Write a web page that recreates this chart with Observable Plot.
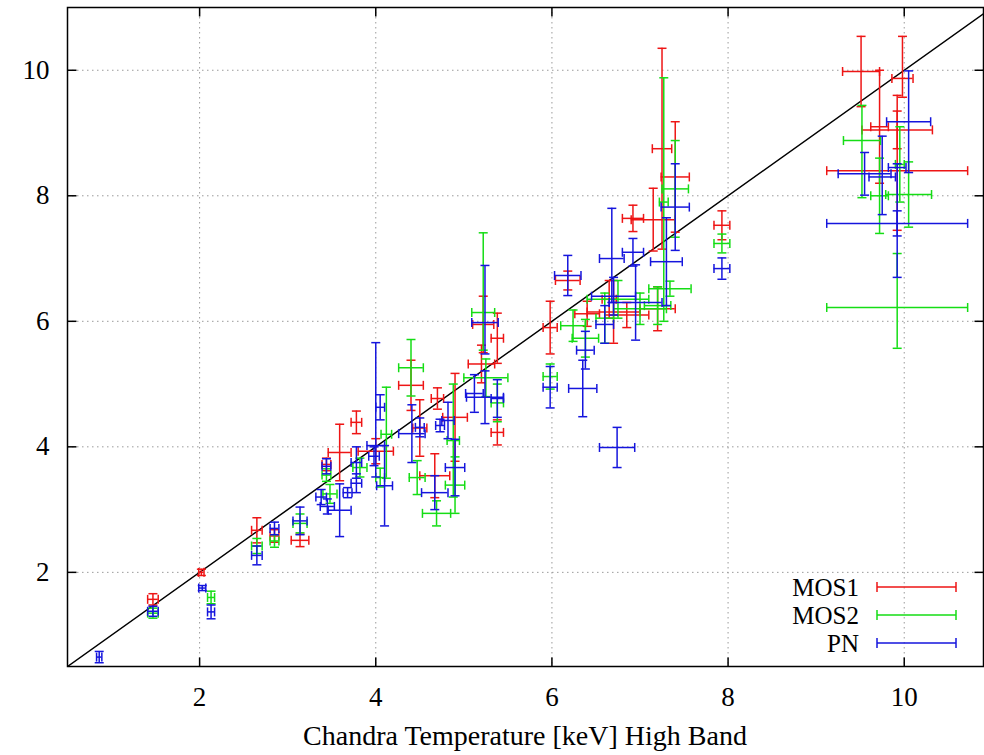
<!DOCTYPE html>
<html><head><meta charset="utf-8">
<script src="https://cdn.jsdelivr.net/npm/d3@7"></script>
<script src="https://cdn.jsdelivr.net/npm/@observablehq/plot@0.6"></script>
<style>body{margin:0;background:#fff} svg{display:block}</style>
</head><body><div id="chart"></div>
<script>
// ---- data ----
const seriesNames = ["MOS1", "MOS2", "PN"];
const seriesColors = ["#ee1515", "#15dd15", "#1515dd"];
const xLabel = "Chandra Temperature [keV] High Band";
const xTicks = [2, 4, 6, 8, 10];
const yTicks = [2, 4, 6, 8, 10];
const xDomain = [0.5, 10.9];
const yDomain = [0.5, 11];

const mos1X     = [1.47,2.02,2.65,2.85,3.14,3.44,3.59,3.78,4.00,4.40,4.50,4.70,4.90,4.67,5.20,5.22,5.38,5.38,5.98,6.18,6.40,6.65,6.70,6.85,7.20,6.92,7.15,7.25,7.40,7.93,9.51,9.72,9.92,9.98,9.92];
const mos1XErr  = [0.06,0.03,0.06,0.05,0.10,0.05,0.13,0.06,0.20,0.14,0.08,0.07,0.14,0.17,0.15,0.12,0.07,0.07,0.08,0.14,0.14,0.08,0.30,0.25,0.20,0.12,0.25,0.11,0.16,0.09,0.21,0.10,0.40,0.12,0.80];
const mos1Y     = [1.57,2.00,2.67,2.58,2.51,3.72,3.91,4.39,3.93,4.98,4.30,4.77,4.47,3.54,5.32,5.95,5.73,4.23,5.90,6.65,6.12,6.35,6.15,6.10,6.20,7.64,7.62,8.75,8.30,7.53,9.98,9.10,9.05,9.87,8.40];
const mos1YDown = [0.09,0.05,0.20,0.10,0.10,0.10,0.45,0.18,0.20,0.40,0.45,0.17,0.70,0.35,0.30,0.45,0.40,0.20,0.42,0.15,0.20,0.30,0.50,0.20,0.35,0.21,0.50,1.60,0.88,0.23,0.56,0.90,0.30,0.30,0.95];
const mos1YUp   = [0.09,0.05,0.20,0.10,0.10,0.10,0.45,0.18,0.20,0.40,0.45,0.17,0.70,0.35,0.30,0.45,0.40,0.20,0.42,0.15,0.20,0.30,0.50,0.20,0.35,0.21,0.50,1.60,0.88,0.23,0.56,0.90,0.30,0.67,1.20];

const mos2X     = [1.47,2.13,2.65,2.85,3.14,3.44,3.48,3.82,4.05,4.12,4.40,4.47,4.69,4.90,4.88,5.22,5.25,5.38,5.98,6.24,6.38,6.60,6.75,7.00,7.20,7.34,7.27,7.40,7.93,9.52,9.72,10.05,9.92,9.95];
const mos2XErr  = [0.06,0.04,0.06,0.05,0.08,0.05,0.08,0.08,0.05,0.06,0.14,0.09,0.16,0.11,0.07,0.13,0.25,0.07,0.08,0.14,0.15,0.10,0.35,0.30,0.15,0.24,0.05,0.15,0.09,0.21,0.10,0.26,0.80,0.05];
const mos2Y     = [1.35,1.60,2.42,2.50,2.78,3.55,3.25,3.67,3.51,4.20,5.26,3.51,2.94,3.39,4.10,6.14,5.10,4.70,5.12,5.93,5.73,6.05,6.35,6.20,6.25,6.52,7.90,8.11,7.24,8.88,8.00,8.02,6.22,8.50];
const mos2YDown = [0.08,0.10,0.12,0.10,0.15,0.10,0.15,0.15,0.15,0.70,0.45,0.27,0.20,0.45,0.90,0.60,0.30,0.30,0.20,0.25,0.30,0.40,0.30,0.25,0.30,0.12,1.90,0.77,0.15,0.91,0.60,0.52,0.65,0.60];
const mos2YUp   = [0.08,0.10,0.12,0.10,0.15,0.10,0.15,0.15,0.15,0.75,0.45,0.27,0.20,0.45,0.90,1.27,0.30,0.30,0.20,0.25,0.30,0.40,0.30,0.25,0.30,0.12,1.98,0.77,0.15,0.56,0.60,0.52,0.86,0.60];

const pnX     = [0.86,1.47,2.03,2.13,2.65,2.85,3.14,3.44,3.38,3.45,3.59,3.68,3.78,3.78,4.00,4.05,3.98,4.10,4.41,4.50,4.73,4.82,4.90,4.67,5.24,5.24,5.38,5.12,5.98,6.18,6.35,6.38,6.74,6.60,6.70,6.95,6.68,6.92,7.30,7.40,7.93,10.05,9.55,9.75,9.92,9.92];
const pnXErr  = [0.03,0.06,0.04,0.04,0.06,0.05,0.08,0.05,0.06,0.08,0.13,0.05,0.06,0.06,0.10,0.05,0.06,0.09,0.15,0.05,0.05,0.07,0.11,0.15,0.15,0.21,0.07,0.10,0.08,0.15,0.16,0.10,0.20,0.10,0.25,0.30,0.14,0.12,0.18,0.16,0.09,0.25,0.30,0.15,0.10,0.80];
const pnY     = [0.65,1.38,1.75,1.37,2.27,2.70,2.82,3.69,3.20,3.05,2.99,3.27,3.75,3.42,4.02,4.63,3.85,3.38,4.21,4.31,4.34,4.42,3.67,3.27,5.98,4.79,4.77,4.85,4.95,6.73,4.93,5.54,3.99,5.95,6.40,6.30,7.00,7.10,6.95,7.82,6.84,9.18,8.35,8.30,8.45,7.56];
const pnYDown = [0.09,0.08,0.04,0.11,0.15,0.10,0.22,0.12,0.12,0.12,0.42,0.08,0.25,0.15,0.50,0.20,0.15,0.64,0.46,0.15,0.10,0.29,0.45,0.27,0.50,0.42,0.30,0.30,0.33,0.32,0.45,0.30,0.32,0.30,0.30,0.60,0.70,0.22,0.70,0.69,0.17,0.81,0.34,0.60,1.75,0.20];
const pnYUp   = [0.09,0.08,0.04,0.11,0.15,0.10,0.22,0.12,0.12,0.12,0.42,0.08,0.25,0.15,1.64,0.20,0.15,0.64,0.46,0.15,0.10,0.29,0.45,0.27,0.91,0.42,0.30,0.30,0.33,0.32,0.45,0.30,0.32,0.30,0.30,0.60,0.80,0.22,0.70,0.69,0.17,0.81,0.34,0.65,0.06,0.20];

// ---- build tables ----
const seriesArrays = [
  [mos1X, mos1XErr, mos1Y, mos1YDown, mos1YUp],
  [mos2X, mos2XErr, mos2Y, mos2YDown, mos2YUp],
  [pnX, pnXErr, pnY, pnYDown, pnYUp]
];
const series = seriesArrays.map(([xs, xe, ys, yd, yu], k) => ({
  name: seriesNames[k], color: seriesColors[k],
  rows: xs.map((x, i) => ({x, x1: x - xe[i], x2: x + xe[i], y: ys[i], y1: ys[i] - yd[i], y2: ys[i] + yu[i]}))
}));

// custom line symbols (radius = half length in px)
const rad = s => Math.sqrt(s / Math.PI);
const capV = {draw(c, s) { const r = rad(s); c.moveTo(0, -r); c.lineTo(0, r); }};
const capH = {draw(c, s) { const r = rad(s); c.moveTo(-r, 0); c.lineTo(r, 0); }};
const tUp = {draw(c, s) { const r = rad(s); c.moveTo(0, 0); c.lineTo(0, -r); }};
const tDown = {draw(c, s) { const r = rad(s); c.moveTo(0, 0); c.lineTo(0, r); }};
const tRight = {draw(c, s) { const r = rad(s); c.moveTo(0, 0); c.lineTo(r, 0); }};
const tLeft = {draw(c, s) { const r = rad(s); c.moveTo(0, 0); c.lineTo(-r, 0); }};

const SW = 1.5, CAP = 4.5;
const seriesMarks = series.flatMap(s => [
  Plot.ruleY(s.rows, {y: "y", x1: "x1", x2: "x2", stroke: s.color, strokeWidth: SW}),
  Plot.ruleX(s.rows, {x: "x", y1: "y1", y2: "y2", stroke: s.color, strokeWidth: SW}),
  Plot.dot(s.rows, {x: "x1", y: "y", symbol: capV, r: CAP, stroke: s.color, strokeWidth: SW, fill: "none"}),
  Plot.dot(s.rows, {x: "x2", y: "y", symbol: capV, r: CAP, stroke: s.color, strokeWidth: SW, fill: "none"}),
  Plot.dot(s.rows, {x: "x", y: "y1", symbol: capH, r: CAP, stroke: s.color, strokeWidth: SW, fill: "none"}),
  Plot.dot(s.rows, {x: "x", y: "y2", symbol: capH, r: CAP, stroke: s.color, strokeWidth: SW, fill: "none"})
]);

const gridStyle = {stroke: "#9a9a9a", strokeOpacity: 1, strokeWidth: 1, strokeDasharray: "1.5,3.5"};
const TK = 9;
const intFmt = d3.format("d");

const chart = Plot.plot({
  width: 984, height: 755,
  marginLeft: 67, marginRight: 1, marginTop: 7, marginBottom: 89,
  x: {domain: xDomain},
  y: {domain: yDomain},
  style: {fontFamily: "'Liberation Serif', 'Times New Roman', serif", fontSize: "27px", color: "black", background: "white"},
  marks: [
    Plot.gridX(xTicks, gridStyle),
    Plot.gridY(yTicks, gridStyle),
    Plot.line(xDomain.map(v => ({v})), {x: "v", y: "v", stroke: "black", strokeWidth: 1.5, clip: true}),
    ...seriesMarks,
    Plot.dot(xTicks, {x: d => d, y: () => yDomain[0], symbol: tUp, r: TK, stroke: "black", strokeWidth: 1.5, fill: "none"}),
    Plot.dot(xTicks, {x: d => d, y: () => yDomain[1], symbol: tDown, r: TK, stroke: "black", strokeWidth: 1.5, fill: "none"}),
    Plot.dot(yTicks, {y: d => d, x: () => xDomain[0], symbol: tRight, r: TK, stroke: "black", strokeWidth: 1.5, fill: "none"}),
    Plot.dot(yTicks, {y: d => d, x: () => xDomain[1], symbol: tLeft, r: TK, stroke: "black", strokeWidth: 1.5, fill: "none"}),
    Plot.frame({stroke: "black", strokeWidth: 1.5}),
    Plot.axisX(xTicks, {tickSize: 0, tickPadding: 20, label: null, fontSize: 27, tickFormat: intFmt}),
    Plot.axisY(yTicks, {tickSize: 0, tickPadding: 18, label: null, fontSize: 27, tickFormat: intFmt})
  ]
});

// x label and legend
const svg = d3.select(chart);
svg.append("text").attr("x", 525).attr("y", 745).attr("text-anchor", "middle")
  .attr("font-size", 28).attr("font-family", "'Liberation Serif', serif").attr("fill", "black").text(xLabel);
const lg = svg.append("g");
series.forEach((s, i) => {
  const yy = 587 + i * 28;
  lg.append("text").attr("x", 859).attr("y", yy + 9).attr("text-anchor", "end")
    .attr("font-size", 25).attr("font-family", "'Liberation Serif', serif").attr("fill", "black").text(s.name);
  lg.append("line").attr("x1", 877).attr("x2", 956).attr("y1", yy).attr("y2", yy).attr("stroke", s.color).attr("stroke-width", SW);
  [877, 956].forEach(xx => lg.append("line").attr("x1", xx).attr("x2", xx).attr("y1", yy - 5).attr("y2", yy + 5).attr("stroke", s.color).attr("stroke-width", SW));
});
document.getElementById("chart").appendChild(chart);
</script>
</body></html>
